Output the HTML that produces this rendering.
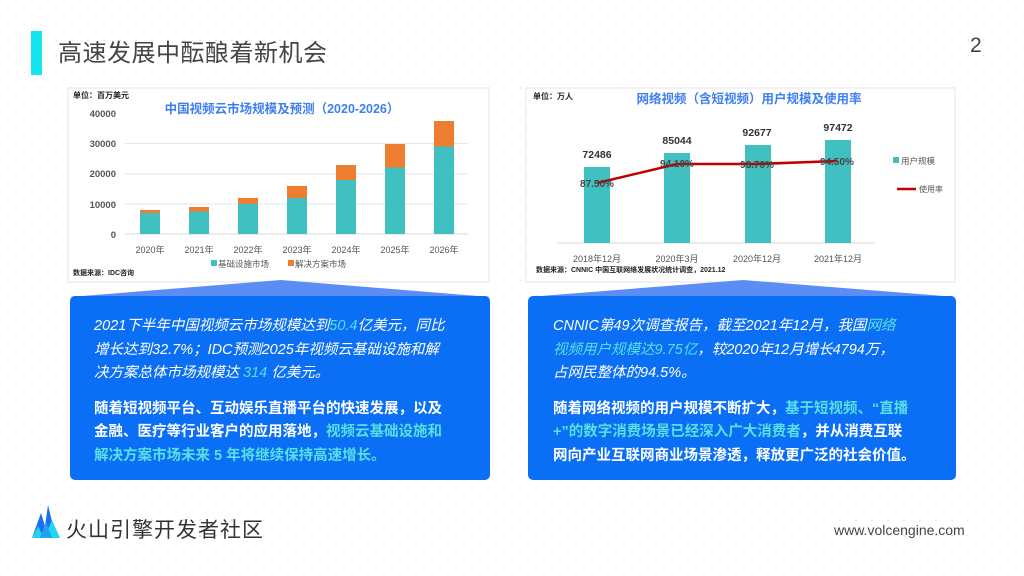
<!DOCTYPE html>
<html><head><meta charset="utf-8">
<style>
html,body{margin:0;padding:0}
body{width:1024px;height:576px;position:relative;overflow:hidden;background:#fff;
background-image:radial-gradient(circle,#e2e2e2 0.9px,transparent 1.2px);background-size:16px 16px;
font-family:"Liberation Sans","Noto Sans CJK SC",sans-serif;}
.abs{position:absolute}
.box{position:absolute;background:#0b6ff6;border-radius:5px;color:#fff;font-size:14.5px;line-height:23.5px;box-sizing:border-box}
.box p{margin:0}
.it{font-style:italic}
.c{color:#59e0e6}
.b{font-weight:bold}
</style></head><body>
<div class="abs" style="left:31px;top:31px;width:11px;height:44px;background:#12e6ef"></div>
<div class="abs" style="left:58px;top:33px;font-size:24px;color:#444;letter-spacing:0.5px">高速发展中酝酿着新机会</div>
<div class="abs" style="left:970px;top:34px;font-size:21px;color:#444">2</div>

<svg class="abs" style="left:0;top:0" width="1024" height="576">
<rect x="68" y="88" width="421" height="194" fill="#fff" stroke="#e4e4e4"/>
<g font-family="Liberation Sans,Noto Sans CJK SC,sans-serif">
<text x="73" y="98" font-size="8" font-weight="bold" fill="#222">单位：百万美元</text>
<text x="282" y="113" font-size="12.5" font-weight="bold" fill="#3f7ef0" text-anchor="middle">中国视频云市场规模及预测（2020-2026）</text>
<g stroke="#e6e6e6"><line x1="125" y1="143.5" x2="468" y2="143.5"/><line x1="125" y1="174" x2="468" y2="174"/><line x1="125" y1="204" x2="468" y2="204"/><line x1="125" y1="234" x2="468" y2="234" stroke="#d8d8d8"/></g>
<g font-size="9.5" font-weight="bold" fill="#555" text-anchor="end"><text x="116" y="117">40000</text><text x="116" y="147">30000</text><text x="116" y="177">20000</text><text x="116" y="208">10000</text><text x="116" y="238">0</text></g>
<g fill="#40c0c0">
<rect x="140" y="213" width="20" height="21"/><rect x="189" y="211.5" width="20" height="22.5"/><rect x="238" y="204" width="20" height="30"/><rect x="287" y="198" width="20" height="36"/><rect x="336" y="180" width="20" height="54"/><rect x="385" y="167.5" width="20" height="66.5"/><rect x="434" y="146.5" width="20" height="87.5"/></g>
<g fill="#ed7d31">
<rect x="140" y="210" width="20" height="3"/><rect x="189" y="207" width="20" height="4.5"/><rect x="238" y="198" width="20" height="6"/><rect x="287" y="186" width="20" height="12"/><rect x="336" y="165" width="20" height="15"/><rect x="385" y="144" width="20" height="23.5"/><rect x="434" y="121" width="20" height="25.5"/></g>
<g font-size="9" fill="#555" text-anchor="middle"><text x="150" y="253">2020年</text><text x="199" y="253">2021年</text><text x="248" y="253">2022年</text><text x="297" y="253">2023年</text><text x="346" y="253">2024年</text><text x="395" y="253">2025年</text><text x="444" y="253">2026年</text></g>
<rect x="211" y="260" width="6" height="6" fill="#40c0c0"/><text x="218" y="267" font-size="8.5" fill="#555">基础设施市场</text>
<rect x="288" y="260" width="6" height="6" fill="#ed7d31"/><text x="295" y="267" font-size="8.5" fill="#555">解决方案市场</text>
<text x="73" y="275" font-size="7" font-weight="bold" fill="#222">数据来源：IDC咨询</text>

<rect x="526" y="88" width="429" height="194" fill="#fff" stroke="#e4e4e4"/>
<text x="533" y="99" font-size="8" font-weight="bold" fill="#222">单位：万人</text>
<text x="749" y="103" font-size="12.5" font-weight="bold" fill="#3f7ef0" text-anchor="middle">网络视频（含短视频）用户规模及使用率</text>
<line x1="557" y1="243" x2="875" y2="243" stroke="#d8d8d8"/>
<g fill="#40c0c0"><rect x="584" y="167" width="26" height="76"/><rect x="664" y="153" width="26" height="90"/><rect x="745" y="145" width="26" height="98"/><rect x="825" y="140" width="26" height="103"/></g>
<g font-size="10.5" font-weight="bold" fill="#333" text-anchor="middle"><text x="597" y="158">72486</text><text x="677" y="144">85044</text><text x="757" y="136">92677</text><text x="838" y="131">97472</text></g>
<polyline points="597,183 677,164 757,164 837,161" fill="none" stroke="#c00000" stroke-width="2.5"/>
<g font-size="10" font-weight="bold" fill="#444" text-anchor="middle"><text x="597" y="187">87.50%</text><text x="677" y="167">94.10%</text><text x="757" y="168">93.70%</text><text x="837" y="165">94.50%</text></g>
<g font-size="9" fill="#555" text-anchor="middle"><text x="597" y="262">2018年12月</text><text x="677" y="262">2020年3月</text><text x="757" y="262">2020年12月</text><text x="838" y="262">2021年12月</text></g>
<rect x="893" y="157" width="6" height="6" fill="#40c0c0"/><text x="901" y="164" font-size="8.5" fill="#555">用户规模</text>
<line x1="897" y1="189" x2="916" y2="189" stroke="#c00000" stroke-width="2.5"/><text x="919" y="192" font-size="8" fill="#555">使用率</text>
<text x="536" y="272" font-size="7" font-weight="bold" fill="#222">数据来源：CNNIC 中国互联网络发展状况统计调查，2021.12</text>

<polygon points="70,297 281,280 490,297" fill="#5b8df4"/>
<polygon points="528,297 743,280 956,297" fill="#5b8df4"/>

<polygon points="32,538 41,513 45,526 48,505 56,538" fill="#1a6ef0"/>
<polygon points="32,538 38,526 44,538" fill="#22d4ee"/>
<polygon points="44,538 52,520 60,538" fill="#22d4ee"/>
<polygon points="40,538 46,522 52,538" fill="#1fa3f0"/>
</g>
</svg>

<div class="box" style="left:70px;top:296px;width:420px;height:184px;padding:19px 0 0 24px">
<p class="it">2021下半年中国视频云市场规模达到<span class="c">50.4</span>亿美元，同比<br>增长达到32.7%；IDC预测2025年视频云基础设施和解<br>决方案总体市场规模达 <span class="c">314</span> 亿美元。</p>
<p class="b" style="margin-top:12px">随着短视频平台、互动娱乐直播平台的快速发展，以及<br>金融、医疗等行业客户的应用落地，<span class="c">视频云基础设施和<br>解决方案市场未来 5 年将继续保持高速增长。</span></p>
</div>
<div class="box" style="left:528px;top:296px;width:428px;height:184px;padding:19px 0 0 25px">
<p class="it">CNNIC第49次调查报告，截至2021年12月，我国<span class="c">网络<br>视频用户规模达9.75亿</span>，较2020年12月增长4794万，<br>占网民整体的94.5%。</p>
<p class="b" style="margin-top:12px">随着网络视频的用户规模不断扩大，<span class="c">基于短视频、“直播<br>+”的数字消费场景已经深入广大消费者</span>，并从消费互联<br>网向产业互联网商业场景渗透，释放更广泛的社会价值。</p>
</div>

<div class="abs" style="left:66px;top:514px;font-size:21px;color:#333;letter-spacing:1px">火山引擎开发者社区</div>
<div class="abs" style="left:834px;top:522px;font-size:14px;color:#444">www.volcengine.com</div>
</body></html>
